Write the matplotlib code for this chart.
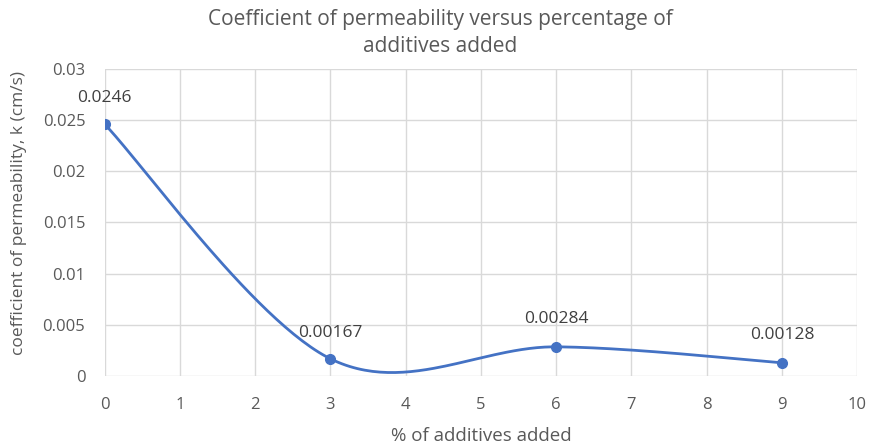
import numpy as np
import matplotlib
matplotlib.use("Agg")
import matplotlib.pyplot as plt

additive_pct = [0, 3, 6, 9]
permeability = [0.0246, 0.00167, 0.00284, 0.00128]
value_labels = ["0.0246", "0.00167", "0.00284", "0.00128"]

plt.rcParams['font.family'] = ['Open Sans', 'DejaVu Sans']
text_grey = '#595959'
blue = '#4472C4'


def smooth_curve(xs, ys, n=60):
    # bezier segments with catmull-rom style control points (spreadsheet smoothing)
    p = np.column_stack([xs, ys]).astype(float)
    pts = np.vstack([p[0], p, p[-1]])
    t = np.linspace(0, 1, n)[:, None]
    out = []
    for i in range(1, len(pts) - 2):
        p0, p1, p2, p3 = pts[i - 1], pts[i], pts[i + 1], pts[i + 2]
        c1 = p1 + (p2 - p0) / 6
        c2 = p2 - (p3 - p1) / 6
        seg = ((1 - t) ** 3) * p1 + 3 * ((1 - t) ** 2) * t * c1 + 3 * (1 - t) * t ** 2 * c2 + t ** 3 * p2
        out.append(seg)
    out = np.vstack(out)
    return out[:, 0], out[:, 1]


fig = plt.figure(figsize=(8.8, 4.48), dpi=100)
ax = fig.add_axes([0.119, 0.161, 0.855, 0.685])

sx, sy = smooth_curve(additive_pct, permeability)
ax.plot(sx, sy, color=blue, lw=2, zorder=3)
ax.plot(additive_pct, permeability, 'o', color=blue, ms=7, zorder=4)

offsets = [(0, 13), (0, 13), (0, 14), (0, 14)]
for x, y, lab, off in zip(additive_pct, permeability, value_labels, offsets):
    ax.annotate(lab, (x, y), xytext=off, textcoords='offset points',
                ha='center', va='bottom', fontsize=12.5, color='#404040')

ax.set_xlim(0, 10)
ax.set_ylim(0, 0.03)
ax.set_xticks(range(0, 11))
ax.set_yticks([0, 0.005, 0.01, 0.015, 0.02, 0.025, 0.03])
ax.set_yticklabels(['0', '0.005', '0.01', '0.015', '0.02', '0.025', '0.03'])
ax.grid(True, color='#d9d9d9', lw=1)
ax.set_axisbelow(True)
for s in ax.spines.values():
    s.set_visible(False)
ax.tick_params(length=0, labelsize=12, colors=text_grey)
ax.tick_params(axis='y', pad=14)
ax.tick_params(axis='x', pad=15)

ax.set_xlabel('% of additives added', fontsize=13.5, color=text_grey)
ax.set_ylabel('coefficient of permeability, k (cm/s)', fontsize=12.5, color=text_grey)
ax.xaxis.set_label_coords(0.5, -0.165)
ax.yaxis.set_label_coords(-0.103, 0.53)
fig.suptitle('Coefficient of permeability versus percentage of\nadditives added',
             x=0.5, y=0.98, fontsize=15, color=text_grey, linespacing=1.35)

fig.savefig('out.png', dpi=100, facecolor='white')
